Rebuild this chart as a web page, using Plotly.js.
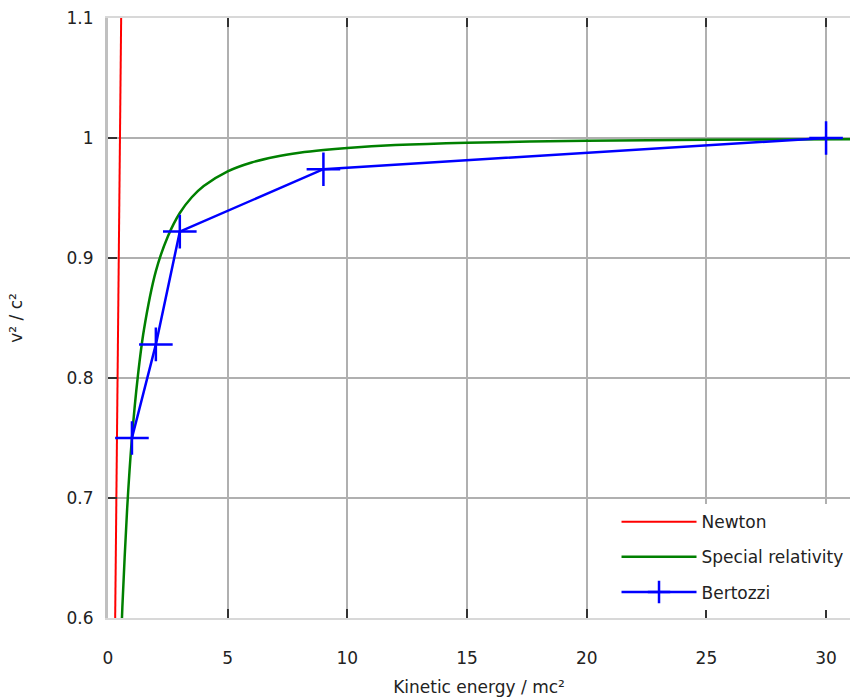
<!DOCTYPE html>
<html>
<head>
<meta charset="utf-8">
<script src="https://cdn.plot.ly/plotly-3.0.1.min.js"></script>
<style>html,body{margin:0;padding:0;background:#fff;}#chart{width:850px;height:698px;}</style>
</head>
<body>
<div id="chart"></div>
<script>
// Newton: v²/c² = 2K/mc² (straight line)
const newtonX = [0, 0.3, 0.55];
const newtonY = [0, 0.6, 1.1];

// Special relativity curve
const srX = [0.5, 0.6, 0.8, 1, 1.25, 1.5, 2, 2.5, 3, 3.5, 4, 5, 6, 7, 8, 9, 10, 12, 15, 20, 25, 31];
const srY = [0.556, 0.609, 0.691, 0.75, 0.802, 0.84, 0.889, 0.918, 0.9375, 0.9506, 0.96, 0.9722, 0.9796, 0.9844, 0.9877, 0.99, 0.9917, 0.9941, 0.9961, 0.9977, 0.9985, 0.999];

// Bertozzi measurements
const bertX = [1, 2, 3, 9, 30];
const bertY = [0.75, 0.828, 0.922, 0.974, 1.0];

const traceNames = ["Newton", "Special relativity", "Bertozzi"];
const xTitle = "Kinetic energy / mc²";
const yTitle = "v² / c²";

const FAM = "DejaVu Sans, Liberation Sans, sans-serif";
const font = {family: FAM, size: 17, color: "#222"};

const data = [
  {x: newtonX, y: newtonY, name: traceNames[0], legendgroup: "a", mode: "lines", line: {color: "#ff0000", width: 2}},
  {x: srX, y: srY, name: traceNames[1], legendgroup: "b", mode: "lines", line: {color: "#008000", width: 2.5, shape: "spline", smoothing: 0.8}},
  {x: bertX, y: bertY, name: traceNames[2], legendgroup: "c", mode: "lines+markers",
   line: {color: "#0000ff", width: 2.5},
   marker: {symbol: "cross-thin", size: 24, line: {color: "#0000ff", width: 2.5}}}
];

const layout = {
  width: 850, height: 698,
  margin: {l: 108, r: 0, t: 18, b: 80},
  paper_bgcolor: "#fff", plot_bgcolor: "#fff",
  font: font,
  showlegend: true,
  legend: {x: 0.998, xanchor: "right", y: 0.013, yanchor: "bottom", bgcolor: "#fff",
           font: {family: FAM, size: 17, color: "#222"}, itemwidth: 75, traceorder: "grouped",
           tracegroupgap: 10},
  xaxis: {
    range: [0, 31], dtick: 5, tick0: 0,
    showgrid: true, gridcolor: "#b0b0b0", gridwidth: 2,
    zeroline: false,
    ticks: "inside", ticklen: 9, tickwidth: 2, tickcolor: "#333",
    showline: true, linecolor: "#d8d8d8", linewidth: 2, mirror: "ticks",
    ticklabelstandoff: 24,
    tickfont: {family: FAM, size: 17, color: "#222"},
    title: {text: xTitle, font: {family: FAM, size: 17, color: "#222"}, standoff: 14}
  },
  yaxis: {
    range: [0.6, 1.1], dtick: 0.1, tick0: 0.6,
    showgrid: true, gridcolor: "#b0b0b0", gridwidth: 2,
    zeroline: false,
    ticks: "inside", ticklen: 9, tickwidth: 2, tickcolor: "#333",
    showline: true, linecolor: "#c0c0c0", linewidth: 3,
    ticklabelstandoff: 8,
    tickfont: {family: FAM, size: 17, color: "#222"},
    title: {text: yTitle, font: {family: FAM, size: 17, color: "#222"}, standoff: 40}
  }
};

Plotly.newPlot("chart", data, layout, {displayModeBar: false, staticPlot: true});
</script>
</body>
</html>
